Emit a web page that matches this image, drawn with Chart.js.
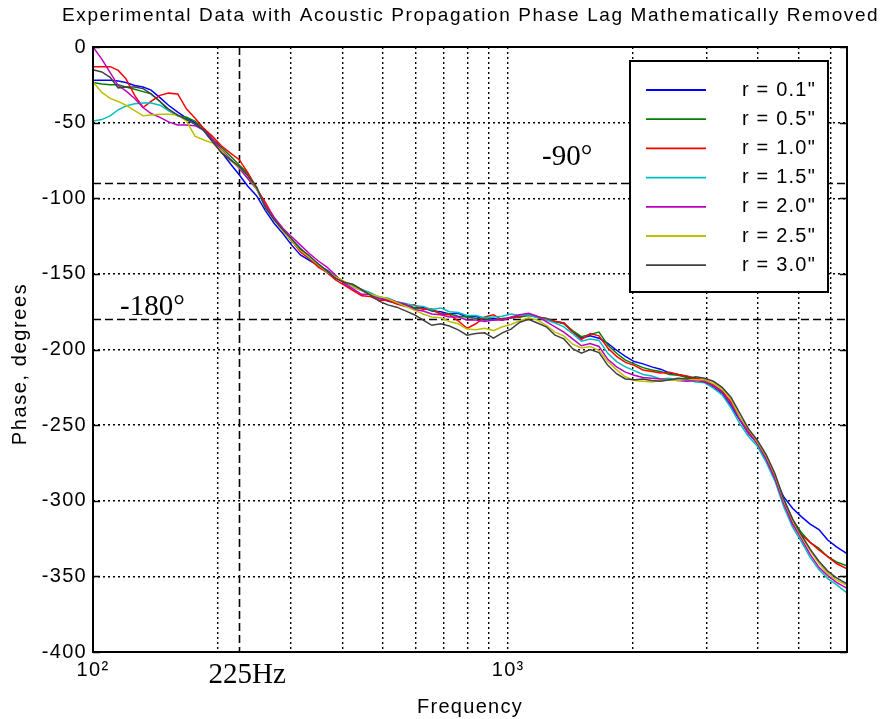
<!DOCTYPE html>
<html>
<head>
<meta charset="utf-8">
<title>Phase vs frequency</title>
<script src="https://cdn.jsdelivr.net/npm/chart.js@4.4.1/dist/chart.umd.min.js"></script>
<style>
  html, body { margin: 0; padding: 0; background: #fff; }
  canvas { display: block; }
</style>
</head>
<body>
<canvas id="phase-chart" width="884" height="719"></canvas>
<script>
// Frequency points (Hz) shared by every probe position =======================
const freqHz = [
  100, 105, 110, 115, 120, 126, 132, 138, 145, 152,
  160, 168, 176, 185, 194, 204, 214, 225, 236, 248,
  260, 273, 287, 301, 316, 332, 349, 366, 384, 403,
  423, 444, 466, 489, 513, 539, 566, 594, 624, 655,
  688, 722, 758, 796, 836, 878, 922, 968, 1016, 1067,
  1120, 1176, 1235, 1297, 1362, 1430, 1501, 1576, 1655, 1738,
  1825, 1916, 2012, 2113, 2218, 2329, 2446, 2568, 2696, 2831,
  2973, 3121, 3277, 3441, 3613, 3794, 3984, 4183, 4392, 4612,
  4842, 5084, 5339, 5606, 5886, 6180, 6550
];

// Phase (degrees) for each radius ============================================
const phase01 = [
  -22, -22, -22, -22.5, -23.5, -25.5, -26.5, -28.5, -33.5, -38.5,
  -43, -47, -50, -55.5, -62.5, -69.5, -77, -84.5, -92, -98.5,
  -108, -116.5, -123.5, -131, -137.5, -141, -144.5, -147.5, -152, -155.5,
  -158.5, -161, -163.5, -166, -168, -169.5, -170.5, -172.5, -172, -174.5,
  -175, -176.5, -176, -178.5, -178, -180.5, -179.5, -180.5, -179, -178.5,
  -177, -178.5, -179.5, -181.5, -182.5, -188, -192.5, -191, -192.5, -196,
  -200.5, -204.5, -208, -209.5, -211.5, -213, -215.5, -216.5, -218, -219.5,
  -220.5, -224.5, -229, -237.5, -246.5, -255.5, -262, -272.5, -285, -297.5,
  -305, -310.5, -315.5, -319, -326, -330.5, -335
];
const phase05 = [
  -23.5, -24.5, -25, -25, -26.5, -28, -29.5, -31, -36, -42,
  -45.5, -46.5, -49, -54, -60.5, -66.5, -72, -78, -83.5, -93,
  -105, -113.5, -121, -128.5, -134, -139.5, -143.5, -148, -152.5, -155.5,
  -158, -160.5, -163, -165.5, -167, -169.5, -170, -172.5, -173, -174,
  -176.5, -176.5, -178, -178.5, -179.5, -179.5, -180.5, -179.5, -179, -178.5,
  -177.5, -178.5, -179.5, -181.5, -183, -187.5, -191.5, -190, -188.5, -197,
  -202.5, -207, -209.5, -212, -213.5, -214.5, -216.5, -217, -218.5, -219,
  -221, -223.5, -227.5, -235.5, -245, -253.5, -262, -271.5, -283.5, -299,
  -312.5, -321, -327.5, -331.5, -337, -340.5, -343
];
const phase10 = [
  -13, -13, -13, -15.5, -21, -32, -40, -36, -32, -30.5,
  -31, -41, -47, -54, -59, -65.5, -70, -74.5, -83, -94,
  -102.5, -113, -121.5, -128, -135.5, -140, -145.5, -149, -154, -157.5,
  -161, -164.5, -165, -167.5, -167.5, -170, -171.5, -170.5, -173.5, -173,
  -176.5, -177, -181, -186, -183, -178.5, -177, -180.5, -179, -178,
  -177, -178.5, -180, -181.5, -182.5, -188.5, -193.5, -189.5, -191, -199,
  -204.5, -208.5, -210.5, -213.5, -214.5, -215.5, -215, -216.5, -217.5, -219,
  -220, -223.5, -228, -234.5, -245.5, -253.5, -262.5, -270.5, -284.5, -300,
  -315, -322.5, -327.5, -332.5, -337, -341.5, -345
];
const phase15 = [
  -49, -48, -45.5, -41.5, -39, -37.5, -37, -37, -38.5, -42,
  -45, -48, -51, -55.5, -61.5, -69, -74.5, -80, -87, -94,
  -106, -114, -121, -127.5, -133, -139.5, -143.5, -148.5, -151.5, -155.5,
  -157, -160.5, -162.5, -165.5, -166, -168.5, -169.5, -171, -171.5, -173.5,
  -172.5, -175, -175.5, -177.5, -177.5, -179, -178.5, -178, -176.5, -177.5,
  -177, -179, -180.5, -182.5, -185, -189.5, -194.5, -193, -194, -202.5,
  -208, -211.5, -214, -216.5, -217.5, -219.5, -219, -220.5, -220, -221.5,
  -222, -225.5, -230, -238.5, -249, -257.5, -264, -274.5, -287, -304,
  -317.5, -327, -337.5, -345.5, -351.5, -355.5, -361
];
const phase20 = [
  0, -8, -17, -25.5, -29, -34, -40, -44, -46.5, -49.5,
  -51.5, -51.5, -52, -55, -61, -68, -74, -80, -87, -94,
  -104.5, -112.5, -120, -125.5, -131, -136.5, -141.5, -145.5, -151, -156.5,
  -160, -163.5, -163.5, -166.5, -166.5, -168.5, -170, -173.5, -174.5, -176.5,
  -177, -178.5, -178.5, -180.5, -180.5, -181.5, -180.5, -180.5, -178.5, -177,
  -176, -178, -181.5, -185, -188.5, -193, -197.5, -196, -198, -206.5,
  -211.5, -215, -217, -218.5, -219, -219.5, -220, -220.5, -221, -220.5,
  -221.5, -224, -228.5, -236, -246, -255.5, -262, -272.5, -285.5, -302,
  -315.5, -325, -335.5, -344, -349.5, -354, -358
];
const phase25 = [
  -23, -30, -34, -36, -38.5, -42, -45.5, -45, -44.5, -44.5,
  -45, -49, -59, -61.5, -63.5, -68.5, -75, -79.5, -85, -94,
  -106, -114.5, -122, -128, -134.5, -139, -144, -148.5, -152, -155,
  -158.5, -161, -163.5, -165, -166.5, -169, -171.5, -174, -176.5, -178.5,
  -179, -181.5, -183, -186.5, -187, -186, -187.5, -185, -183.5, -181,
  -179, -180.5, -184, -188.5, -191, -196.5, -199, -198, -200.5, -208,
  -213.5, -218, -220.5, -221, -221.5, -220.5, -220, -220.5, -219.5, -220,
  -220, -222.5, -226, -233, -244.5, -253, -261, -270.5, -283, -300,
  -313, -323.5, -333, -341.5, -348, -352.5, -356
];
const phase30 = [
  -15, -16.5, -20, -27, -26.5, -26.5, -27.5, -31, -36, -41,
  -45, -48, -51, -55, -62.5, -70, -74.5, -79, -85, -93,
  -106, -114, -121, -127, -133.5, -138, -143.5, -148, -153, -155.5,
  -157, -160.5, -164, -168, -170.5, -172, -174.5, -177, -180.5, -184,
  -183, -184.5, -187, -190.5, -189.5, -189, -192.5, -189, -186.5, -182,
  -180, -182.5, -185, -190.5, -193, -199.5, -202.5, -200, -202, -210.5,
  -216, -219.5, -220, -219.5, -220.5, -221, -220, -219, -219.5, -218,
  -219, -221, -225, -231.5, -242, -252.5, -260, -269.5, -282, -299,
  -312, -322.5, -332, -340, -346.5, -351, -355
];

const seriesLabels = ['r = 0.1"', 'r = 0.5"', 'r = 1.0"', 'r = 1.5"', 'r = 2.0"', 'r = 2.5"', 'r = 3.0"'];
const seriesPhase = [phase01, phase05, phase10, phase15, phase20, phase25, phase30];
const seriesColors = ['#0000ff', '#008000', '#ff0000', '#00bfbf', '#bf00bf', '#bfbf00', '#404040'];

// Axis ticks ==================================================================
const xTickValues = [100, 200, 300, 400, 500, 600, 700, 800, 900, 1000, 2000, 3000, 4000, 5000, 6000];
const xTickText = { 100: '10\u00b2', 1000: '10\u00b3' };

// Reference marks
const phaseMarks = [-90, -180];
const phaseMarkText = ['-90\u00b0', '-180\u00b0'];
const freqMark = 225;
const freqMarkText = '225Hz';

const SANS = 'Arial, "Liberation Sans", sans-serif';
const SERIF = '"Times New Roman", "Liberation Serif", serif';
const SPACING = '1.3px';

const datasets = seriesLabels.map((label, i) => ({
  label: label,
  data: freqHz.map((f, k) => ({ x: f, y: seriesPhase[i][k] })),
  borderColor: seriesColors[i],
  borderWidth: 1.5,
  pointRadius: 0,
  tension: 0,
  fill: false,
  order: seriesLabels.length - i
}));

// Plot decorations: frame, tick marks, marker lines, texts, legend =========
const decorations = {
  id: 'decorations',
  beforeDraw(chart) {
    chart.ctx.letterSpacing = SPACING;
  },
  beforeDatasetsDraw(chart) {
    const { ctx, chartArea: a, scales: { x, y } } = chart;
    ctx.save();
    ctx.strokeStyle = '#000';
    ctx.lineWidth = 1.6;
    ctx.setLineDash([8, 4]);
    phaseMarks.forEach(v => {
      const py = Math.round(y.getPixelForValue(v)) + 0.5;
      ctx.beginPath();
      ctx.moveTo(a.left, py);
      ctx.lineTo(a.right, py);
      ctx.stroke();
    });
    const px = Math.round(x.getPixelForValue(freqMark)) + 0.5;
    ctx.beginPath();
    ctx.moveTo(px, a.top);
    ctx.lineTo(px, a.bottom);
    ctx.stroke();
    ctx.restore();
  },
  afterDatasetsDraw(chart) {
    const { ctx, chartArea: a, scales: { x, y } } = chart;
    ctx.save();
    ctx.strokeStyle = '#000';
    ctx.setLineDash([]);
    // tick marks on left and right edges
    ctx.lineWidth = 1.5;
    y.ticks.forEach(t => {
      const py = Math.round(y.getPixelForValue(t.value)) + 0.5;
      ctx.beginPath();
      ctx.moveTo(a.left, py); ctx.lineTo(a.left + 7, py);
      ctx.moveTo(a.right, py); ctx.lineTo(a.right - 7, py);
      ctx.stroke();
    });
    // frame
    ctx.lineWidth = 2;
    ctx.strokeRect(a.left, a.top, a.right - a.left, a.bottom - a.top);

    // marker texts
    ctx.letterSpacing = '0px';
    ctx.fillStyle = '#000';
    ctx.font = '29px ' + SERIF;
    ctx.textBaseline = 'alphabetic';
    ctx.textAlign = 'left';
    ctx.fillText(phaseMarkText[0], 542, y.getPixelForValue(phaseMarks[0]) - 18);
    ctx.fillText(phaseMarkText[1], 120, y.getPixelForValue(phaseMarks[1]) - 4);
    ctx.textAlign = 'center';
    ctx.fillText(freqMarkText, x.getPixelForValue(freqMark) + 8, a.bottom + 31);
    ctx.restore();
  },
  afterDraw(chart) {
    const { ctx, chartArea: a } = chart;
    ctx.save();
    ctx.fillStyle = '#000';

    // title, spread over the width of the plot header
    const title = 'Experimental Data with Acoustic Propagation Phase Lag Mathematically Removed';
    ctx.font = '19px ' + SANS;
    ctx.letterSpacing = '0px';
    const w = ctx.measureText(title).width;
    ctx.letterSpacing = ((816 - w) / (title.length - 1)).toFixed(2) + 'px';
    ctx.textAlign = 'left';
    ctx.textBaseline = 'middle';
    ctx.fillText(title, (a.left + a.right) / 2 - 408, 16);

    // y axis title
    ctx.save();
    ctx.font = '20px ' + SANS;
    ctx.letterSpacing = '1.6px';
    ctx.translate(20, a.top + 317);
    ctx.rotate(-Math.PI / 2);
    ctx.textAlign = 'center';
    ctx.fillText('Phase, degrees', 0, 0);
    ctx.restore();

    // legend box
    const bx = a.right - 217, by = a.top + 14, bw = 198, bh = 231;
    ctx.fillStyle = '#fff';
    ctx.fillRect(bx, by, bw, bh);
    ctx.lineWidth = 2;
    ctx.strokeStyle = '#000';
    ctx.strokeRect(bx, by, bw, bh);
    ctx.font = '20px ' + SANS;
    ctx.letterSpacing = '1.2px';
    ctx.textAlign = 'left';
    ctx.textBaseline = 'middle';
    chart.data.datasets.forEach((ds, i) => {
      const ly = by + 29 + i * 29.2;
      ctx.strokeStyle = ds.borderColor;
      ctx.lineWidth = 1.8;
      ctx.beginPath();
      ctx.moveTo(bx + 16, ly);
      ctx.lineTo(bx + 76, ly);
      ctx.stroke();
      ctx.fillStyle = '#000';
      ctx.fillText(ds.label, bx + 112, ly);
    });
    ctx.restore();
    ctx.letterSpacing = '0px';
  }
};

const axisFont = { family: SANS, size: 20 };

new Chart(document.getElementById('phase-chart'), {
  type: 'line',
  data: { datasets: datasets },
  options: {
    responsive: false,
    animation: false,
    devicePixelRatio: 1,
    layout: { padding: { top: 47, right: 37, left: 0, bottom: 0 } },
    plugins: {
      legend: { display: false },
      tooltip: { enabled: false },
      title: { display: false }
    },
    scales: {
      x: {
        type: 'logarithmic',
        min: 100,
        max: 6550,
        afterBuildTicks: (scale) => { scale.ticks = xTickValues.map(v => ({ value: v })); },
        afterFit: (scale) => { scale.height = 67; },
        grid: { color: '#000', lineWidth: 1.4, drawTicks: false },
        border: { display: false, dash: [2, 3] },
        ticks: {
          autoSkip: false,
          maxRotation: 0,
          padding: 6,
          color: '#000',
          font: axisFont,
          callback: (v) => xTickText[v] || ''
        },
        title: { display: true, text: 'Frequency', color: '#000', font: axisFont, padding: { top: 0, bottom: 0 } }
      },
      y: {
        min: -400,
        max: 0,
        afterFit: (scale) => { scale.width = 93; },
        grid: { color: '#000', lineWidth: 1.4, drawTicks: false },
        border: { display: false, dash: [2, 3] },
        ticks: { stepSize: 50, padding: 6, color: '#000', font: axisFont }
      }
    }
  },
  plugins: [decorations]
});
</script>
</body>
</html>
